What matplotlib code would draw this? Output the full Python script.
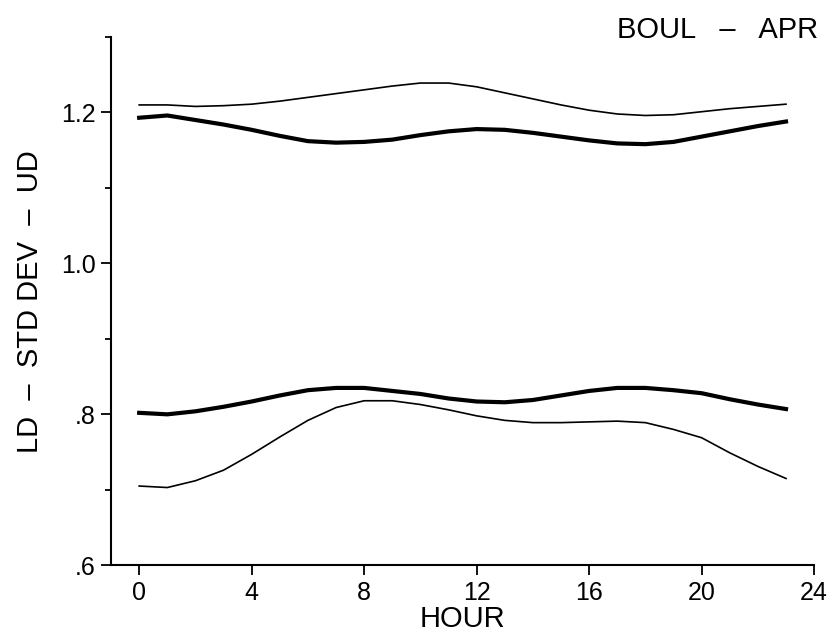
import matplotlib
matplotlib.use('Agg')
import matplotlib.pyplot as plt
from matplotlib.ticker import FixedLocator

plt.rcParams['font.family'] = ['Liberation Sans Narrow', 'Liberation Sans', 'DejaVu Sans']

hours = list(range(24))

# upper pair (UD side)
ud_thin = [1.210, 1.210, 1.208, 1.209, 1.211, 1.215, 1.220, 1.225, 1.230, 1.235, 1.239, 1.239,
           1.234, 1.226, 1.218, 1.210, 1.203, 1.198, 1.196, 1.197, 1.201, 1.205, 1.208, 1.211]
ud_thick = [1.193, 1.196, 1.190, 1.184, 1.177, 1.169, 1.162, 1.160, 1.161, 1.164, 1.170, 1.175,
            1.178, 1.177, 1.173, 1.168, 1.163, 1.159, 1.158, 1.161, 1.168, 1.175, 1.182, 1.188]

# lower pair (LD side)
ld_thick = [0.802, 0.800, 0.804, 0.810, 0.817, 0.825, 0.832, 0.835, 0.835, 0.831, 0.827, 0.821,
            0.817, 0.816, 0.819, 0.825, 0.831, 0.835, 0.835, 0.832, 0.828, 0.820, 0.813, 0.807]
ld_thin = [0.705, 0.703, 0.712, 0.726, 0.747, 0.770, 0.792, 0.809, 0.818, 0.818, 0.813, 0.806,
           0.798, 0.792, 0.789, 0.789, 0.790, 0.791, 0.789, 0.780, 0.769, 0.749, 0.731, 0.715]

x_ticks = [0, 4, 8, 12, 16, 20, 24]
y_ticks = [0.6, 0.8, 1.0, 1.2]
y_tick_labels = ['.6', '.8', '1.0', '1.2']
y_minor = [0.7, 0.9, 1.1, 1.3]

fig = plt.figure(figsize=(8.35, 6.38), dpi=100)
ax = fig.add_axes([0.133, 0.114, 0.842, 0.828])

ax.plot(hours, ud_thin, color='black', lw=1.2)
ax.plot(hours, ud_thick, color='black', lw=3.0)
ax.plot(hours, ld_thick, color='black', lw=3.0)
ax.plot(hours, ld_thin, color='black', lw=1.2)

ax.set_xlim(-1, 24)
ax.set_ylim(0.6, 1.3)
ax.set_xticks(x_ticks)
ax.set_yticks(y_ticks)
ax.set_yticklabels(y_tick_labels)
ax.yaxis.set_minor_locator(FixedLocator(y_minor))

for s in ['top', 'right']:
    ax.spines[s].set_visible(False)
for s in ['left', 'bottom']:
    ax.spines[s].set_linewidth(1.5)

ax.tick_params(axis='both', which='major', length=7, width=1.3, labelsize=18, pad=4)
ax.tick_params(axis='y', which='minor', length=4, width=1.3)

ax.set_xlabel('HOUR', fontsize=21, labelpad=0)
ax.set_ylabel('LD  \u2013  STD DEV  \u2013  UD', fontsize=21, labelpad=12)

fig.text(0.98, 0.975, 'BOUL   \u2013   APR', fontsize=21, ha='right', va='top')

fig.savefig('out.png', dpi=100)
